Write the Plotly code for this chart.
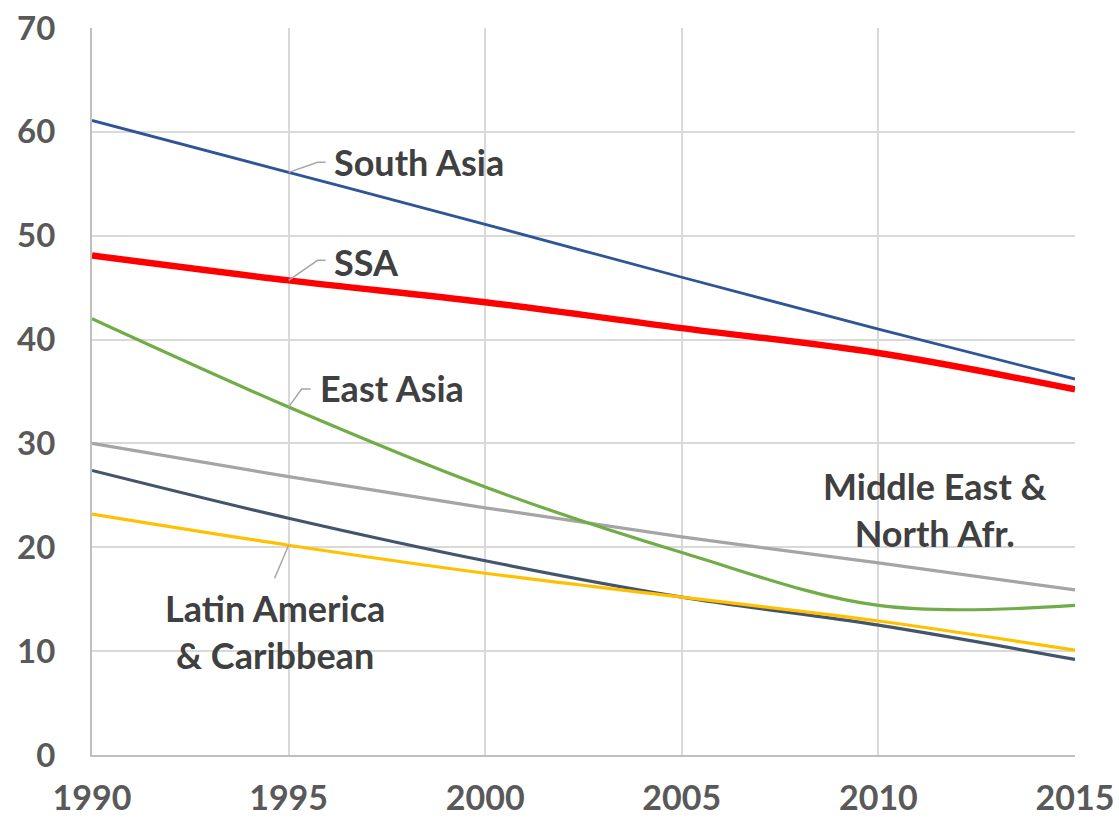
import plotly.graph_objects as go

years = [1990, 1995, 2000, 2005, 2010, 2015]
south_asia = [61.1, 56.1, 51.1, 46.0, 41.0, 36.2]
ssa = [48.1, 45.7, 43.6, 41.1, 38.7, 35.2]
east_asia = [42.0, 33.5, 25.8, 19.5, 14.4, 14.4]
mena = [30.0, 26.8, 23.8, 21.0, 18.5, 15.9]
europe_ca = [27.4, 22.8, 18.7, 15.2, 12.5, 9.2]
latin_am = [23.2, 20.2, 17.5, 15.2, 12.9, 10.1]

series = [
    ("Middle East & North Afr.", mena, "#A5A5A5", 3.2),
    ("Europe & Central Asia", europe_ca, "#44546A", 3.2),
    ("Latin America & Caribbean", latin_am, "#FFC000", 3.2),
    ("East Asia", east_asia, "#70AD47", 3.2),
    ("South Asia", south_asia, "#2F5597", 2.8),
    ("SSA", ssa, "#FF0000", 6.5),
]

fig = go.Figure()
for name, vals, color, w in series:
    fig.add_trace(go.Scatter(x=years, y=vals, mode="lines", name=name,
                             line=dict(color=color, width=w, shape="spline", smoothing=1.0)))

TXT = "#404040"
FONT = "Lato"
lab_font = dict(family=FONT, size=36, color=TXT)

fig.add_annotation(x=1996.1, y=57.1, text="<b>South Asia</b>", showarrow=False,
                   xanchor="left", yanchor="middle", font=lab_font)
fig.add_annotation(x=1996.1, y=47.5, text="<b>SSA</b>", showarrow=False,
                   xanchor="left", yanchor="middle", font=lab_font)
fig.add_annotation(x=1995.75, y=35.3, text="<b>East Asia</b>", showarrow=False,
                   xanchor="left", yanchor="middle", font=lab_font)
fig.add_annotation(x=2011.45, y=23.6, text="<b>Middle East &amp;<br>North Afr.</b>", showarrow=False,
                   xanchor="center", yanchor="middle", font=lab_font)
fig.add_annotation(x=1994.65, y=11.9, text="<b>Latin America<br>&amp; Caribbean</b>", showarrow=False,
                   xanchor="center", yanchor="middle", font=lab_font)

i95 = years.index(1995)
leaders = [
    (south_asia[i95], "M0,0 L29,10 L37,10"),
    (ssa[i95], "M0,0 L29,20 L37,20"),
    (east_asia[i95], "M0,0 L13,18 L22,18"),
    (latin_am[i95], "M0,0 L-14,-33"),
]
for yv, path in leaders:
    fig.add_shape(type="path", xref="x", yref="y", xsizemode="pixel", ysizemode="pixel",
                  xanchor=1995, yanchor=yv, path=path,
                  line=dict(color="#A6A6A6", width=1.5))

fig.update_layout(
    width=1119, height=820,
    margin=dict(l=92, r=44, t=28, b=65),
    paper_bgcolor="white", plot_bgcolor="white",
    showlegend=False,
    font=dict(family=FONT, color="#595959"),
)
fig.update_xaxes(range=[1990, 2015], tickvals=years, ticktext=[f"<b>{y}</b>" for y in years],
                 showgrid=True, gridcolor="#D9D9D9", gridwidth=1.5,
                 showline=True, linecolor="#BFBFBF", linewidth=2,
                 zeroline=False, ticks="", ticklabelstandoff=12, automargin=False,
                 ticklabeloverflow="allow",
                 tickfont=dict(family=FONT, size=34, color="#595959"))
fig.update_yaxes(range=[0, 70], tickvals=[0, 10, 20, 30, 40, 50, 60, 70],
                 ticktext=[f"<b>{v}</b>" for v in [0, 10, 20, 30, 40, 50, 60, 70]],
                 showgrid=True, gridcolor="#D9D9D9", gridwidth=1.5,
                 showline=True, linecolor="#BFBFBF", linewidth=2,
                 zeroline=False, ticks="", ticklabelstandoff=28, automargin=False,
                 ticklabeloverflow="allow",
                 tickfont=dict(family=FONT, size=33, color="#595959"))

fig.write_html("out.html", config={"displayModeBar": False},
               post_script="document.body.style.margin='0';document.body.style.overflow='hidden';")
